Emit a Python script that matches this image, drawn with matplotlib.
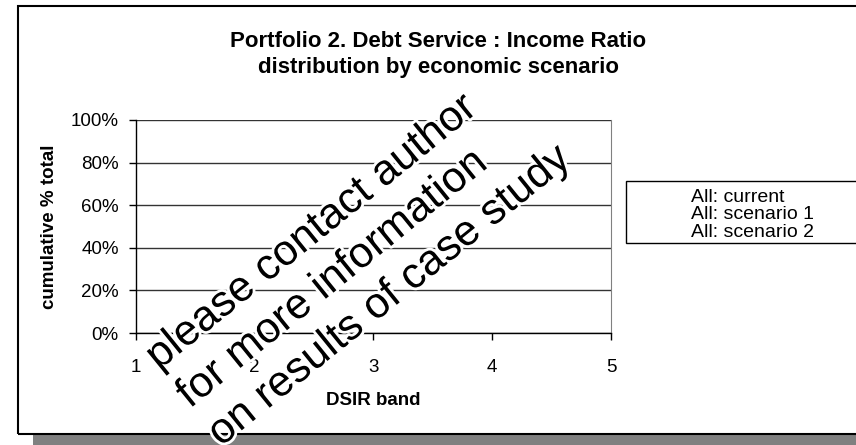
import matplotlib
matplotlib.use('Agg')
import matplotlib.pyplot as plt
from matplotlib.patches import Rectangle
from matplotlib.ticker import PercentFormatter
import matplotlib.patheffects as pe

plt.rcParams['font.family'] = ['Liberation Sans', 'DejaVu Sans']

# DSIR bands on the x axis and the three scenario series
dsir_bands = [1, 2, 3, 4, 5]
pct_ticks = [0, 0.2, 0.4, 0.6, 0.8, 1.0]
series_names = ['All: current', 'All: scenario 1', 'All: scenario 2']
# results withheld - series carry no published values
series_values = {name: [] for name in series_names}

W, H = 856, 445
fig = plt.figure(figsize=(W / 100, H / 100), dpi=100)

# chart frame with drop shadow along the bottom
fig.add_artist(Rectangle((33 / W, 0), (900 - 33) / W, 10 / H, transform=fig.transFigure,
                         facecolor='#808080', edgecolor='none', zorder=0))
fig.add_artist(Rectangle((18 / W, 1 - 434 / H), (900 - 18) / W, (434 - 5.5) / H,
                         transform=fig.transFigure, fill=False, edgecolor='black',
                         linewidth=1.5, zorder=0))

ax = fig.add_axes([135.5 / W, 1 - 333 / H, (611 - 135.5) / W, 213 / H])

lines = []
for name in series_names:
    vals = series_values[name]
    ln, = ax.plot(dsir_bands[:len(vals)], vals, label=name)
    lines.append(ln)

ax.set_xlim(dsir_bands[0], dsir_bands[-1])
ax.set_ylim(0, 1)
ax.set_xticks(dsir_bands)
ax.set_yticks(pct_ticks)
ax.yaxis.set_major_formatter(PercentFormatter(1.0, decimals=0))

ax.spines['top'].set_visible(False)
ax.spines['right'].set_color('#808080')
for s in ('left', 'bottom'):
    ax.spines[s].set_color('black')
    ax.spines[s].set_linewidth(1)
ax.yaxis.grid(True, color='#333333', linewidth=1)
ax.set_axisbelow(True)

ax.tick_params(axis='both', direction='out', length=5, width=1, labelsize=13.5, color='black')
ax.tick_params(axis='x', pad=14)
ax.tick_params(axis='y', pad=7)

ax.set_xlabel('DSIR band', fontsize=13.5, fontweight='bold')
ax.xaxis.set_label_coords(0.5, -0.277)
ax.set_ylabel('cumulative % total', fontsize=13.5, fontweight='bold')
ax.yaxis.set_label_coords(-0.163, 0.5)

# baseline given for the second (last) title line
fig.text(438 / W, 1 - 73 / H,
         'Portfolio 2. Debt Service : Income Ratio\ndistribution by economic scenario',
         ha='center', va='baseline', fontsize=16, fontweight='bold', linespacing=1.33)

# legend box
fig.add_artist(Rectangle((626 / W, 1 - 243 / H), (900 - 626) / W, 62 / H,
                         transform=fig.transFigure, facecolor='white', edgecolor='black',
                         linewidth=1, zorder=4))
for ln in lines:
    ln.set_visible(False)
fig.legend(lines, series_names, loc='upper left', bbox_to_anchor=(691 / W, 1 - 188 / H),
           frameon=False, handlelength=0, handletextpad=0, labelspacing=0,
           borderpad=0, borderaxespad=0, fontsize=14)

# overlay notice, anchored at the start of its last line
fig.text(215 / W, 1 - 440 / H,
         'please contact author\nfor more information\non results of case study',
         rotation=39, rotation_mode='anchor', ha='left', va='baseline',
         fontsize=31, linespacing=1.3, zorder=10,
         path_effects=[pe.withStroke(linewidth=4, foreground='white')])

fig.savefig('out.png', dpi=100)
